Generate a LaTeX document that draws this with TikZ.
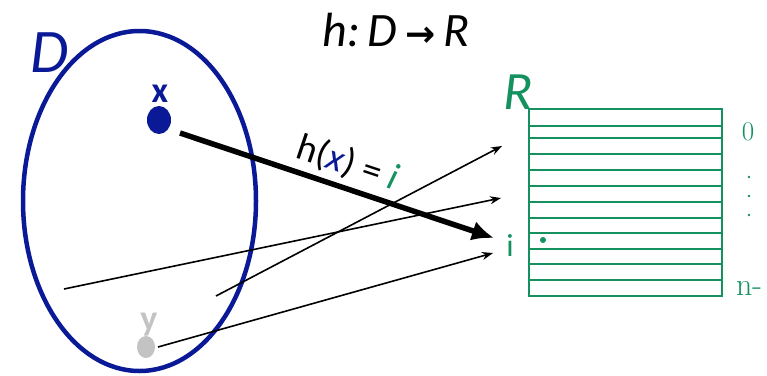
\documentclass[tikz,border=0pt]{standalone}
\usepackage{fontspec}
\usetikzlibrary{shapes.geometric,arrows.meta}
\newfontfamily\calf{Carlito}
\newfontfamily\dejaf{DejaVu Sans}
\definecolor{dblue}{RGB}{10,25,150}
\definecolor{tgreen}{RGB}{20,145,95}
\definecolor{lgray}{RGB}{195,195,195}
\tikzset{
  thinarrow/.style={black, line width=1.6pt, -{Stealth[length=11pt,width=8pt]}},
  thickarrow/.style={black, line width=5.5pt, -{Latex[length=22pt,width=20pt]}},
  gridline/.style={tgreen, line width=2pt},
  lbl/.style={inner sep=0pt, outer sep=0pt},
}
\begin{document}
\begin{tikzpicture}[x=1pt,y=-1pt]
\useasboundingbox (0,0) rectangle (767,375);
% domain
\node[draw=dblue, line width=4.5pt, ellipse, minimum width=233pt, minimum height=340pt, inner sep=0pt] (D) at (139.5,201) {};
\node[lbl, anchor=base, text=dblue] (Dlbl) at (50,72) {\calf\itshape\fontsize{62}{62}\selectfont D};
% title
\node[lbl, anchor=base] (title) at (396,46) {\calf\itshape\fontsize{48}{48}\selectfont h:\,D\,{\dejaf\bfseries\fontsize{36}{36}\selectfont →}\,R};
% points
\node[draw=none, fill=dblue, ellipse, minimum width=24pt, minimum height=28pt, inner sep=0pt] (xdot) at (159,120) {};
\node[lbl, anchor=base, text=dblue] (xlbl) at (160,102) {\calf\bfseries\fontsize{36}{36}\selectfont x};
\node[draw=none, fill=lgray, ellipse, minimum width=18pt, minimum height=22pt, inner sep=0pt] (ydot) at (146,347) {};
\node[lbl, anchor=base, text=lgray] (ylbl) at (149,330) {\calf\bfseries\fontsize{36}{36}\selectfont y};
% range table
\coordinate (Rnw) at (529,109);
\coordinate (Rse) at (722,296);
\draw[gridline] (Rnw) rectangle (Rse);
\foreach \yy in {125.7,137.7,154.3,170,186,201.7,218.3,233.3,249.3,264,280}
  \draw[gridline] (529,\yy) -- (722,\yy);
\node[lbl, anchor=base, text=tgreen] (Rlbl) at (518,109) {\calf\itshape\fontsize{54}{54}\selectfont R};
\node[draw=none, fill=tgreen, circle, minimum size=6pt, inner sep=0pt] (idot) at (543,240) {};
\node[lbl, anchor=base, text=tgreen] (ilbl) at (510,256) {\calf\fontsize{32}{32}\selectfont i};
\node[lbl, anchor=base, text=tgreen] (zero) at (748,140) {\fontsize{27}{27}\selectfont 0};
\foreach \yy in {177,196,215}
  \fill[tgreen] (749,\yy) circle (1.4pt);
\node[lbl, anchor=base west, text=tgreen] (nm) at (736,295) {\fontsize{32}{32}\selectfont n-};
% arrows
\coordinate (a0) at (180,133);
\coordinate (b0) at (494,238);
\coordinate (a1) at (64,289);
\coordinate (b1) at (501,198);
\coordinate (a2) at (216,296);
\coordinate (b2) at (502,146);
\coordinate (a3) at (158,347);
\coordinate (b3) at (493,253);
\draw[thinarrow] (a1) -- (b1);
\draw[thinarrow] (a2) -- (b2);
\draw[thinarrow] (a3) -- (b3);
\draw[thickarrow] (a0) -- (b0) node[pos=0.51, sloped, above, inner sep=5pt] (hlbl) {\calf\fontsize{38}{38}\selectfont h(\textcolor{dblue}{\itshape x}) = \textcolor{tgreen}{\itshape i}};
\end{tikzpicture}
\end{document}
